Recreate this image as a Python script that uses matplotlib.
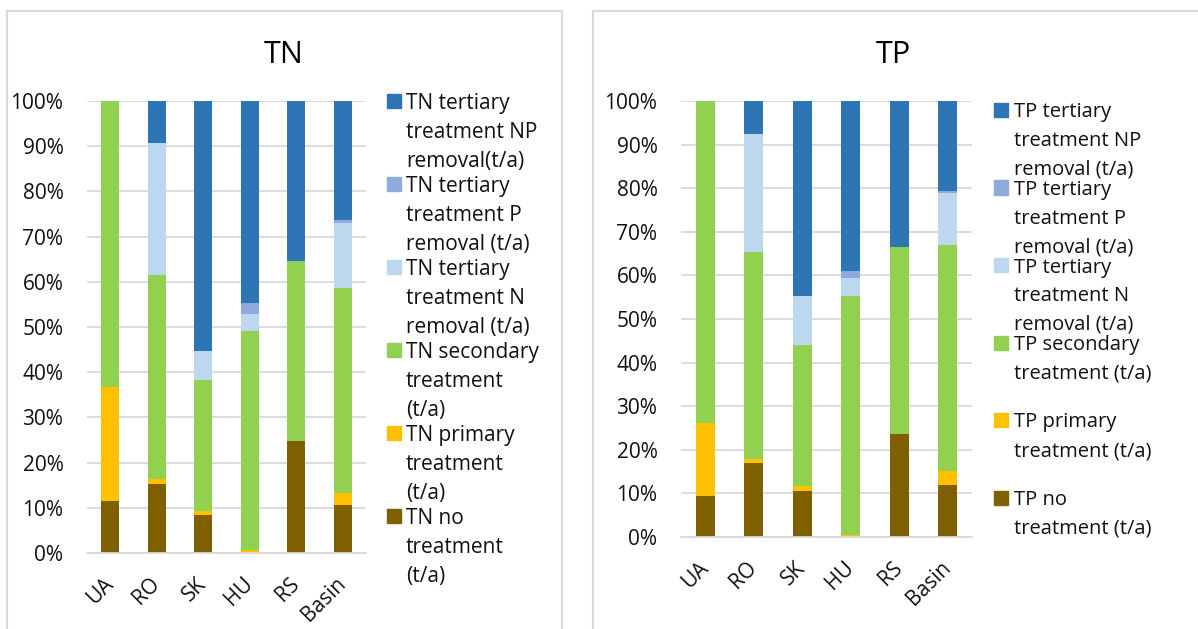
import numpy as np
import matplotlib
matplotlib.use('Agg')
import matplotlib.pyplot as plt
from matplotlib.patches import Rectangle

plt.rcParams['font.family'] = ['Open Sans', 'DejaVu Sans']

# Dados (parcela de cada tipo de tratamento, %)
paises = ['UA', 'RO', 'SK', 'HU', 'RS', 'Basin']

tn_sem = [11.4, 15.3, 8.3, 0.0, 24.8, 10.6]
tn_primario = [25.3, 1.0, 1.1, 0.6, 0.0, 2.6]
tn_secundario = [63.3, 45.2, 28.9, 48.5, 39.7, 45.4]
tn_terc_n = [0.0, 29.1, 6.5, 3.8, 0.0, 14.4]
tn_terc_p = [0.0, 0.0, 0.0, 2.3, 0.0, 0.6]
tn_terc_np = [0.0, 9.4, 55.2, 44.8, 35.5, 26.4]

tp_sem = [9.4, 16.9, 10.6, 0.0, 23.6, 11.9]
tp_primario = [16.8, 0.9, 1.0, 0.4, 0.0, 3.2]
tp_secundario = [73.8, 47.6, 32.5, 54.9, 42.9, 51.9]
tp_terc_n = [0.0, 27.1, 11.2, 4.0, 0.0, 11.9]
tp_terc_p = [0.0, 0.0, 0.0, 1.6, 0.0, 0.4]
tp_terc_np = [0.0, 7.5, 44.7, 39.1, 33.5, 20.7]

rotulos_tn = ['TN tertiary\ntreatment NP\nremoval(t/a)',
              'TN tertiary\ntreatment P\nremoval (t/a)',
              'TN tertiary\ntreatment N\nremoval (t/a)',
              'TN secondary\ntreatment\n(t/a)',
              'TN primary\ntreatment\n(t/a)',
              'TN no\ntreatment\n(t/a)']
rotulos_tp = ['TP tertiary\ntreatment NP\nremoval (t/a)',
              'TP tertiary\ntreatment P\nremoval (t/a)',
              'TP tertiary\ntreatment N\nremoval (t/a)',
              'TP secondary\ntreatment (t/a)',
              'TP primary\ntreatment (t/a)',
              'TP no\ntreatment (t/a)']

# cores de baixo para cima
cores = ['#7F6000', '#FFC000', '#92D050', '#BDD7EE', '#8FAADC', '#2E75B6']
cor_texto = '#111111'

W, H = 1198, 629
fig = plt.figure(figsize=(W / 100, H / 100), dpi=100)


def px(x, y):
    return x / W, 1 - y / H


# molduras dos dois graficos
fig.patches.append(Rectangle(px(7, 640), (562 - 7) / W, (640 - 11) / H, transform=fig.transFigure,
                             fill=False, edgecolor='#d9d9d9', lw=1.5))
fig.patches.append(Rectangle(px(593, 640), (1210 - 593) / W, (640 - 11) / H, transform=fig.transFigure,
                             fill=False, edgecolor='#d9d9d9', lw=1.5))


def grafico(rect, series, rotulos, titulo, xt, leg_hx, leg_tx, leg_y0, passo, linha, fs_leg):
    ax = fig.add_axes(rect)
    dados = np.array(series, dtype=float)
    dados = dados / dados.sum(axis=0) * 100
    base = np.zeros(len(paises))
    x = np.arange(len(paises))
    for i in range(len(dados)):
        ax.bar(x, dados[i], width=0.39, bottom=base, color=cores[i], edgecolor='none', zorder=2)
        base += dados[i]
    ax.set_xlim(-0.5, len(paises) - 0.5)
    ax.set_ylim(0, 100)
    ax.set_yticks(range(0, 101, 10))
    ax.set_yticklabels([f'{v}%' for v in range(0, 101, 10)])
    ax.set_xticks(x)
    ax.set_xticklabels(paises, rotation=45, ha='right', va='center', rotation_mode='anchor')
    ax.tick_params(axis='y', length=0, pad=17, labelsize=15, labelcolor=cor_texto)
    ax.tick_params(axis='x', length=0, pad=20, labelsize=15, labelcolor=cor_texto)
    ax.grid(axis='y', color='#d9d9d9', lw=1.3, zorder=0)
    for s in ['top', 'right', 'left']:
        ax.spines[s].set_visible(False)
    ax.spines['bottom'].set_color('#d9d9d9')
    ax.spines['bottom'].set_linewidth(1.3)
    ax.set_axisbelow(True)

    fig.text(*px(xt, 55), titulo, fontsize=22, ha='center', va='center', color='#000000')

    # legenda manual (de cima para baixo)
    for k, rot in enumerate(rotulos):
        yc = leg_y0 + k * passo
        fig.patches.append(Rectangle(px(leg_hx, yc + 7), 14 / W, 14 / H, transform=fig.transFigure,
                                     color=cores[::-1][k]))
        for j, txt in enumerate(rot.split('\n')):
            fig.text(*px(leg_tx, yc + j * linha), txt, fontsize=fs_leg, ha='left', va='center_baseline',
                     color=cor_texto)
    return ax


grafico([87 / W, 1 - 553 / H, (366 - 87) / W, (553 - 101) / H],
        [tn_sem, tn_primario, tn_secundario, tn_terc_n, tn_terc_p, tn_terc_np],
        rotulos_tn, 'TN', 284, 387, 406, 101, 83, 29, 15)
grafico([681 / W, 1 - 537 / H, (972 - 681) / W, (537 - 101) / H],
        [tp_sem, tp_primario, tp_secundario, tp_terc_n, tp_terc_p, tp_terc_np],
        rotulos_tp, 'TP', 893, 994, 1014, 110, 77.5, 28.5, 14.5)

fig.savefig('out.png', dpi=100, facecolor='white')
